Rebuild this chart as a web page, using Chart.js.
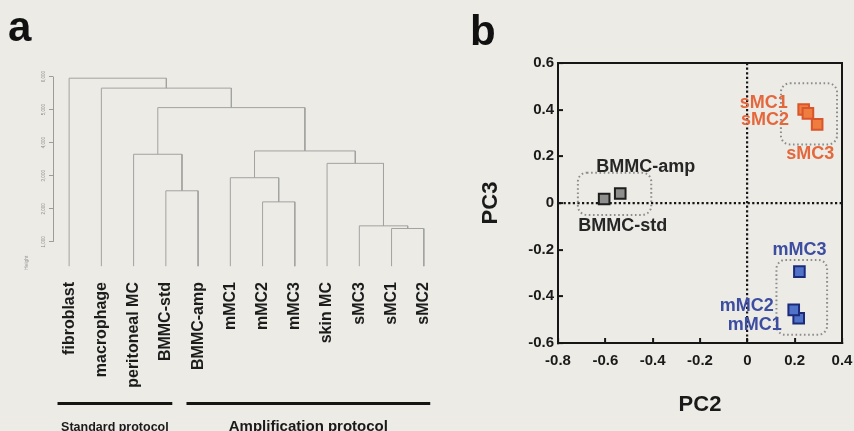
<!DOCTYPE html>
<html>
<head>
<meta charset="utf-8">
<script src="https://cdn.jsdelivr.net/npm/chart.js@4.4.1/dist/chart.umd.min.js"></script>
<style>
  html, body { margin: 0; padding: 0; background: #ecebe6; }
  #wrap { position: relative; width: 854px; height: 431px; overflow: hidden; }
  #dendro { position: absolute; left: 0; top: 0; }
  #pca { position: absolute; left: 440px; top: 0; }
  .tag { position: absolute; font: bold 42px 'Liberation Sans', Arial, sans-serif; line-height: 42px; color: #111; }
</style>
</head>
<body>
<div id="wrap">
  <canvas id="dendro" width="455" height="431"></canvas>
  <canvas id="pca" width="428" height="431"></canvas>
  <div class="tag" style="left:8px; top:6px;">a</div>
  <div class="tag" style="left:470px; top:10px;">b</div>
</div>
<script>
// --- panel a: hierarchical clustering ---
const leaves = ['fibroblast', 'macrophage', 'peritoneal MC', 'BMMC-std', 'BMMC-amp',
  'mMC1', 'mMC2', 'mMC3', 'skin MC', 'sMC3', 'sMC1', 'sMC2'];
// merges like R hclust: negative = leaf number, positive = earlier merge
const mergeLeft = [-11, -10, -7, -4, -6, -9, -3, 5, 7, -2, -1];
const mergeRight = [-12, 1, -8, -5, 3, 2, 4, 6, 8, 9, 10];
const mergeHeight = [1405, 1485, 2210, 2545, 2940, 3375, 3650, 3750, 5060, 5650, 5950];
const leafBase = 265;
const heightTicks = [1000, 2000, 3000, 4000, 5000, 6000];
const protocols = ['Standard protocol', 'Amplification protocol'];
const protocolFirst = [1, 5];
const protocolLast = [4, 12];

// --- panel b: PCA ---
const pcNames = ['BMMC-std', 'BMMC-amp', 'sMC1', 'sMC2', 'sMC3', 'mMC1', 'mMC2', 'mMC3'];
const pcGroup = ['BMMC', 'BMMC', 'sMC', 'sMC', 'sMC', 'mMC', 'mMC', 'mMC'];
const pc2 = [-0.605, -0.537, 0.238, 0.256, 0.295, 0.217, 0.196, 0.22];
const pc3 = [0.017, 0.041, 0.401, 0.384, 0.337, -0.494, -0.458, -0.294];
const groups = ['BMMC', 'sMC', 'mMC'];
// dotted group outlines, in PC units
const boxX1 = [-0.716, 0.142, 0.123];
const boxX2 = [-0.406, 0.379, 0.337];
const boxY1 = [-0.051, 0.251, -0.565];
const boxY2 = [0.13, 0.513, -0.244];

Chart.defaults.font.family = "'Liberation Sans', Arial, sans-serif";
Chart.defaults.animation = false;

const groupStyle = {
  BMMC: { fill: '#8e8e8c', edge: '#1e1e1e', text: '#262626' },
  sMC: { fill: '#ef7d3f', edge: '#d9552b', text: '#e5673c' },
  mMC: { fill: '#5072c8', edge: '#1c2a7a', text: '#3d4ea0' }
};
const labelPos = {
  'BMMC-std': { dx: -26, dy: 27, align: 'left' },
  'BMMC-amp': { dx: -24, dy: -26, align: 'left' },
  'sMC1': { dx: -16, dy: -6, align: 'right' },
  'sMC2': { dx: -19, dy: 7, align: 'right' },
  'sMC3': { dx: 17, dy: 30, align: 'right' },
  'mMC3': { dx: 0, dy: -22, align: 'center' },
  'mMC2': { dx: -20, dy: -4, align: 'right' },
  'mMC1': { dx: -17, dy: 7, align: 'right' }
};

// build dendrogram links
const nodes = [];
function nodeAt(ref) {
  return ref < 0 ? { x: -ref, y: leafBase } : nodes[ref - 1];
}
const links = mergeHeight.map(function (h, i) {
  const a = nodeAt(mergeLeft[i]);
  const b = nodeAt(mergeRight[i]);
  nodes.push({ x: (a.x + b.x) / 2, y: h });
  return {
    data: [{ x: a.x, y: a.y }, { x: a.x, y: h }, { x: b.x, y: h }, { x: b.x, y: b.y }],
    showLine: true,
    borderColor: '#a2a2a0',
    borderWidth: 1,
    pointRadius: 0,
    tension: 0
  };
});

const heightAxisLine = {
  id: 'heightAxisLine',
  beforeDatasetsDraw(chart) {
    const y = chart.scales.y;
    const ctx = chart.ctx;
    const x = Math.round(y.right) + 0.5;
    ctx.save();
    ctx.strokeStyle = '#9c9c9a';
    ctx.lineWidth = 1;
    ctx.beginPath();
    ctx.moveTo(x, y.getPixelForValue(heightTicks[0]));
    ctx.lineTo(x, y.getPixelForValue(heightTicks[heightTicks.length - 1]));
    ctx.stroke();
    ctx.restore();
  }
};

const protocolBars = {
  id: 'protocolBars',
  afterDraw(chart) {
    const xs = chart.scales.x;
    const ctx = chart.ctx;
    const sizes = [12.5, 15];
    ctx.save();
    protocols.forEach(function (name, i) {
      const x1 = xs.getPixelForValue(protocolFirst[i] - 0.36);
      const x2 = xs.getPixelForValue(protocolLast[i] + 0.2);
      ctx.strokeStyle = '#151515';
      ctx.lineWidth = 3;
      ctx.beginPath();
      ctx.moveTo(x1, 403.5);
      ctx.lineTo(x2, 403.5);
      ctx.stroke();
      ctx.fillStyle = '#1a1a1a';
      ctx.font = 'bold ' + sizes[i] + 'px ' + Chart.defaults.font.family;
      ctx.textAlign = 'center';
      ctx.textBaseline = 'alphabetic';
      ctx.fillText(name, (x1 + x2) / 2, 431);
    });
    ctx.restore();
  }
};

new Chart(document.getElementById('dendro'), {
  type: 'scatter',
  data: { datasets: links },
  options: {
    responsive: false,
    events: [],
    layout: { padding: { left: 24, top: 60, right: 0, bottom: 0 } },
    plugins: { legend: { display: false }, tooltip: { enabled: false } },
    scales: {
      x: {
        type: 'linear',
        min: 0.5,
        max: 12.5,
        afterBuildTicks: function (s) { s.ticks = leaves.map(function (l, i) { return { value: i + 1 }; }); },
        afterFit: function (s) { s.height = 161; },
        grid: { display: false, drawTicks: false },
        border: { display: false },
        ticks: {
          autoSkip: false,
          minRotation: 90,
          maxRotation: 90,
          padding: 12,
          color: '#1c1c1c',
          font: { size: 16, weight: 'bold' },
          callback: function (v) { return leaves[Math.round(v) - 1]; }
        }
      },
      y: {
        type: 'linear',
        min: 150,
        max: 6500,
        afterBuildTicks: function (s) { s.ticks = heightTicks.map(function (v) { return { value: v }; }); },
        afterFit: function (s) { s.width = 29; },
        grid: { drawOnChartArea: false, drawTicks: true, tickLength: 4, tickColor: '#9c9c9a', color: '#9c9c9a' },
        border: { display: false },
        title: { display: true, text: 'Height', align: 'start', color: '#999', font: { size: 5 }, padding: 0 },
        ticks: {
          minRotation: 90,
          maxRotation: 90,
          crossAlign: 'center',
          padding: 0,
          color: '#8a8a8a',
          font: { size: 4.5 }
        }
      }
    }
  },
  plugins: [heightAxisLine, protocolBars]
});

// --- PCA chart ---
const pcSets = groups.map(function (g) {
  const pts = [];
  pcNames.forEach(function (n, i) {
    if (pcGroup[i] === g) pts.push({ x: pc2[i], y: pc3[i], name: n });
  });
  return {
    label: g,
    data: pts,
    pointStyle: 'rect',
    pointRadius: 7.5,
    borderWidth: 2,
    backgroundColor: groupStyle[g].fill,
    borderColor: groupStyle[g].edge
  };
});

const groupOutlines = {
  id: 'groupOutlines',
  beforeDatasetsDraw(chart) {
    const xs = chart.scales.x, ys = chart.scales.y, ctx = chart.ctx;
    ctx.save();
    ctx.strokeStyle = '#8c8c8c';
    ctx.lineWidth = 2;
    ctx.setLineDash([1.6, 2.6]);
    groups.forEach(function (g, i) {
      const l = xs.getPixelForValue(boxX1[i]);
      const r = xs.getPixelForValue(boxX2[i]);
      const t = ys.getPixelForValue(boxY2[i]);
      const b = ys.getPixelForValue(boxY1[i]);
      ctx.beginPath();
      ctx.roundRect(l, t, r - l, b - t, 9);
      ctx.stroke();
    });
    ctx.restore();
  }
};

const pointNames = {
  id: 'pointNames',
  afterDatasetsDraw(chart) {
    const ctx = chart.ctx;
    ctx.save();
    ctx.font = 'bold 18px ' + Chart.defaults.font.family;
    ctx.textBaseline = 'middle';
    chart.data.datasets.forEach(function (ds, di) {
      const meta = chart.getDatasetMeta(di);
      ds.data.forEach(function (p, i) {
        const el = meta.data[i];
        const lp = labelPos[p.name];
        ctx.fillStyle = groupStyle[ds.label].text;
        ctx.textAlign = lp.align;
        ctx.fillText(p.name, el.x + lp.dx, el.y + lp.dy);
      });
    });
    ctx.restore();
  }
};

function fmt(v) {
  return Math.abs(v) < 1e-9 ? '0' : v.toFixed(1);
}
function zeroColor(c) {
  return Math.abs(c.tick.value) < 1e-9 ? '#161616' : 'rgba(0,0,0,0)';
}

new Chart(document.getElementById('pca'), {
  type: 'scatter',
  data: { datasets: pcSets },
  options: {
    responsive: false,
    events: [],
    layout: { padding: { left: 38, top: 63, right: 0, bottom: 8 } },
    plugins: { legend: { display: false }, tooltip: { enabled: false } },
    scales: {
      x: {
        min: -0.8,
        max: 0.4,
        afterFit: function (s) { s.height = 80; },
        grid: { color: zeroColor, lineWidth: 2.2, tickLength: -5, tickColor: '#161616', tickWidth: 2 },
        border: { display: true, color: '#161616', width: 2, dash: [2.2, 2.4] },
        ticks: { stepSize: 0.2, padding: 14, color: '#1a1a1a', font: { size: 15, weight: 'bold' }, callback: fmt },
        title: { display: true, text: 'PC2', color: '#1a1a1a', font: { size: 22, weight: 'bold' }, padding: { top: 0, bottom: 5 } }
      },
      y: {
        min: -0.6,
        max: 0.6,
        afterFit: function (s) { s.width = 80; },
        grid: { color: zeroColor, lineWidth: 2.2, tickLength: -5, tickColor: '#161616', tickWidth: 2 },
        border: { display: true, color: '#161616', width: 2, dash: [2.2, 2.4] },
        ticks: { stepSize: 0.2, padding: 9, color: '#1a1a1a', font: { size: 15, weight: 'bold' }, callback: fmt },
        title: { display: true, text: 'PC3', color: '#1a1a1a', font: { size: 22, weight: 'bold' }, padding: 0 }
      },
      xTop: {
        axis: 'x',
        position: 'top',
        min: -0.8,
        max: 0.4,
        afterFit: function (s) { s.height = 0; },
        grid: { display: false },
        ticks: { display: false },
        border: { display: true, color: '#161616', width: 2 }
      },
      yRight: {
        axis: 'y',
        position: 'right',
        min: -0.6,
        max: 0.6,
        afterFit: function (s) { s.width = 26; },
        grid: { display: false },
        ticks: { display: false },
        border: { display: true, color: '#161616', width: 2 }
      }
    }
  },
  plugins: [groupOutlines, pointNames]
});
</script>
</body>
</html>
